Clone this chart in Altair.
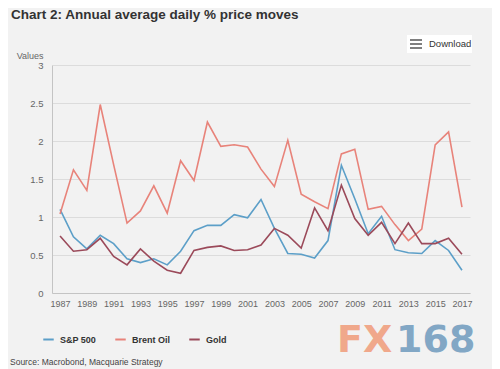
import altair as alt
import pandas as pd

years = list(range(1987, 2018))
sp500 = [1.10, 0.74, 0.58, 0.76, 0.65, 0.45, 0.40, 0.45, 0.37, 0.55, 0.82, 0.89, 0.89, 1.03, 0.99, 1.23,
         0.85, 0.52, 0.51, 0.46, 0.69, 1.68, 1.24, 0.78, 1.01, 0.57, 0.53, 0.52, 0.69, 0.56, 0.30]
brent = [1.04, 1.62, 1.35, 2.48, 1.69, 0.92, 1.08, 1.41, 1.05, 1.74, 1.48, 2.25, 1.93, 1.95, 1.92, 1.63,
         1.40, 2.01, 1.30, 1.20, 1.11, 1.83, 1.89, 1.10, 1.14, 0.90, 0.69, 0.84, 1.95, 2.12, 1.13]
gold = [0.75, 0.55, 0.57, 0.72, 0.48, 0.37, 0.58, 0.42, 0.30, 0.26, 0.56, 0.60, 0.62, 0.56, 0.57, 0.63,
        0.85, 0.76, 0.59, 1.12, 0.82, 1.42, 0.98, 0.76, 0.93, 0.65, 0.92, 0.65, 0.65, 0.72, 0.51]

series_names = ["S&P 500", "Brent Oil", "Gold"]
series_colors = ["#5c9fc8", "#e8837a", "#9b4a5a"]
x_tick_values = list(range(1987, 2018, 2))
y_tick_values = [0, 0.5, 1, 1.5, 2, 2.5, 3]

rows = []
for name, vals in zip(series_names, [sp500, brent, gold]):
    for y, v in zip(years, vals):
        rows.append({"year": y, "value": v, "series": name})
df = pd.DataFrame(rows)

FONT = "Liberation Sans, Arial, sans-serif"

lines = alt.Chart(df).mark_line(strokeWidth=1.6).encode(
    x=alt.X("year:Q",
            scale=alt.Scale(domain=[1986.4, 2017.6], nice=False, zero=False),
            axis=alt.Axis(values=x_tick_values, format="d", title=None, grid=False, ticks=False,
                          domainColor="#c4c4c4", labelColor="#666666", labelFontSize=9,
                          labelPadding=6, labelFlush=False, labelFont=FONT)),
    y=alt.Y("value:Q",
            scale=alt.Scale(domain=[0, 3], nice=False),
            axis=alt.Axis(values=y_tick_values, format="~g", ticks=False, domainColor="#c4c4c4",
                          gridColor="#dcdcdc", labelColor="#666666", labelFontSize=9.5,
                          labelPadding=9, labelFont=FONT,
                          title="Values", titleAngle=0, titleX=-9, titleY=-7, titleAlign="right",
                          titleBaseline="alphabetic", titleFontWeight="normal", titleFontSize=9,
                          titleColor="#666666", titleFont=FONT)),
    color=alt.Color("series:N",
                    scale=alt.Scale(domain=series_names, range=series_colors),
                    sort=series_names,
                    legend=alt.Legend(title=None, orient="none", direction="horizontal",
                                      legendX=-10, legendY=268, symbolType="stroke",
                                      symbolStrokeWidth=2, symbolSize=110, columnPadding=14,
                                      gridAlign="none",
                                      labelFontSize=9, labelFontWeight="bold", labelColor="#333333",
                                      labelFont=FONT, labelOffset=5)),
    order=alt.Order("year:Q"),
)

one = pd.DataFrame({"k": [0]})

title = alt.Chart(one).mark_text(text="Chart 2: Annual average daily % price moves", align="left",
                                 baseline="alphabetic", fontSize=13.5, fontWeight="bold",
                                 color="#333333", font=FONT).encode(x=alt.value(-41), y=alt.value(-46.5))

btn = alt.Chart(one).mark_rect(color="white").encode(
    x=alt.value(355), x2=alt.value(420), y=alt.value(-30), y2=alt.value(-12))
burger = alt.Chart(pd.DataFrame({"k": [0, 1, 2]})).mark_rule(color="#555555", strokeWidth=1.5).encode(
    x=alt.value(358), x2=alt.value(370),
    y=alt.Y("k:Q", scale=alt.Scale(domain=[0, 1], range=[-25, -21]), axis=None))
dl = alt.Chart(one).mark_text(text="Download", align="left", baseline="middle", fontSize=9.5,
                              color="#333333", font=FONT).encode(x=alt.value(377), y=alt.value(-21))

fx = alt.Chart(one).mark_text(text="FX", align="left", baseline="alphabetic", fontSize=38,
                              fontWeight="bold", color="#f0a88b", font="DejaVu Sans").encode(
    x=alt.value(285), y=alt.value(287))
n168 = alt.Chart(one).mark_text(text="168", align="left", baseline="alphabetic", fontSize=38,
                                fontWeight="bold", color="#82a7c5", font="DejaVu Sans").encode(
    x=alt.value(344), y=alt.value(287))

source = alt.Chart(one).mark_text(text="Source: Macrobond, Macquarie Strategy", align="left",
                                  baseline="alphabetic", fontSize=8.5, color="#444444",
                                  font=FONT).encode(x=alt.value(-42), y=alt.value(300))

chart = alt.layer(lines, title, btn, burger, dl, fx, n168, source).resolve_scale(y="independent").properties(
    width=418, height=228,
    autosize=alt.AutoSizeParams(type="none"),
    padding={"left": 44, "top": 57, "right": 22, "bottom": 76},
    background="#f2f2f2",
).configure_view(stroke=None)

chart.save("out.html", embed_options={"renderer": "svg", "actions": False})
